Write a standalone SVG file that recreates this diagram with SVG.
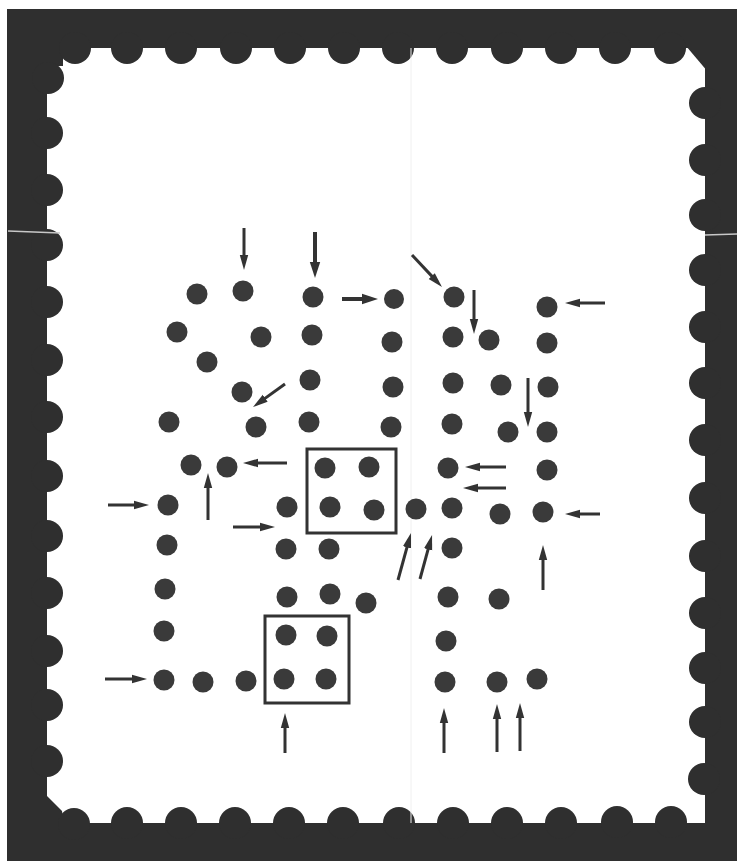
<svg xmlns="http://www.w3.org/2000/svg" width="737" height="861" viewBox="0 0 737 861">
<style>
.frame{fill:#2f2f2f}
.bump{fill:#2f2f2f}
.dot{fill:#3a3a3a}
.box{fill:none;stroke:#333;stroke-width:3}
.arr{stroke:#333;stroke-width:3;fill:none;marker-end:url(#ah)}
.arr2{stroke:#333;stroke-width:4;fill:none;marker-end:url(#ah2)}
.crease{stroke:#c8c8c8;stroke-width:1.5}
</style>
<defs>
<marker id="ah" viewBox="0 0 15 10" refX="8" refY="5" markerWidth="15" markerHeight="10" markerUnits="userSpaceOnUse" orient="auto">
<path d="M0,0.8 L15,5 L0,9.2 Z" fill="#333"/>
</marker>
<marker id="ah2" viewBox="0 0 16 12" refX="9" refY="6" markerWidth="16" markerHeight="12" markerUnits="userSpaceOnUse" orient="auto">
<path d="M0,0.8 L16,6 L0,11.2 Z" fill="#333"/>
</marker>
</defs>
<rect width="737" height="861" fill="#ffffff"/>
<g id="frame">
<rect class="frame" x="7" y="9" width="730" height="852"/>
<rect x="47" y="48" width="658" height="775" fill="#ffffff"/>
<g class="bump">
<rect x="45" y="46" width="18" height="20"/>
<polygon points="686,46 708,46 708,72"/>
<polygon points="45,794 62,811 64,826 45,826"/>
<circle cx="75" cy="48" r="16"/><circle cx="127" cy="48" r="16"/><circle cx="181" cy="48" r="16"/><circle cx="236" cy="48" r="16"/><circle cx="290" cy="48" r="16"/><circle cx="344" cy="48" r="16"/><circle cx="398" cy="48" r="16"/><circle cx="452" cy="48" r="16"/><circle cx="507" cy="48" r="16"/><circle cx="561" cy="48" r="16"/><circle cx="615" cy="48" r="16"/><circle cx="670" cy="48" r="16"/>
<circle cx="74" cy="824" r="16"/><circle cx="127" cy="823" r="16"/><circle cx="181" cy="823" r="16"/><circle cx="235" cy="823" r="16"/><circle cx="289" cy="823" r="16"/><circle cx="343" cy="823" r="16"/><circle cx="399" cy="823" r="16"/><circle cx="453" cy="823" r="16"/><circle cx="507" cy="823" r="16"/><circle cx="561" cy="823" r="16"/><circle cx="617" cy="822" r="16"/><circle cx="671" cy="822" r="16"/>
<circle cx="48" cy="78" r="16"/><circle cx="47" cy="133" r="16"/><circle cx="47" cy="190" r="16"/><circle cx="47" cy="245" r="16"/><circle cx="47" cy="302" r="16"/><circle cx="47" cy="360" r="16"/><circle cx="47" cy="417" r="16"/><circle cx="47" cy="476" r="16"/><circle cx="47" cy="536" r="16"/><circle cx="47" cy="593" r="16"/><circle cx="47" cy="651" r="16"/><circle cx="47" cy="705" r="16"/><circle cx="47" cy="761" r="16"/>
<circle cx="705" cy="103" r="16"/><circle cx="705" cy="160" r="16"/><circle cx="705" cy="215" r="16"/><circle cx="705" cy="270" r="16"/><circle cx="705" cy="327" r="16"/><circle cx="705" cy="383" r="16"/><circle cx="705" cy="440" r="16"/><circle cx="705" cy="498" r="16"/><circle cx="705" cy="556" r="16"/><circle cx="705" cy="613" r="16"/><circle cx="705" cy="668" r="16"/><circle cx="705" cy="722" r="16"/><circle cx="704" cy="779" r="16"/>
</g>
<line class="crease" x1="8" y1="231" x2="60" y2="233"/>
<line class="crease" x1="705" y1="235" x2="737" y2="234"/>
<line x1="411" y1="48" x2="411" y2="823" stroke="#f0f0f0" stroke-width="1"/>
</g>
<g id="box1"><rect class="box" x="307" y="449" width="89" height="84"/></g>
<g id="box2"><rect class="box" x="265" y="616" width="84" height="87"/></g>
<g id="dots">
<g id="n1"><circle class="dot" cx="197" cy="294" r="10.5"/></g>
<g id="n2"><circle class="dot" cx="243" cy="291" r="10.5"/></g>
<g id="n3"><circle class="dot" cx="313" cy="297" r="10.5"/></g>
<g id="n4"><circle class="dot" cx="394" cy="299" r="10"/></g>
<g id="n5"><circle class="dot" cx="177" cy="332" r="10.5"/></g>
<g id="n6"><circle class="dot" cx="261" cy="337" r="10.5"/></g>
<g id="n7"><circle class="dot" cx="312" cy="335" r="10.5"/></g>
<g id="n8"><circle class="dot" cx="392" cy="342" r="10.5"/></g>
<g id="n9"><circle class="dot" cx="207" cy="362" r="10.5"/></g>
<g id="n10"><circle class="dot" cx="310" cy="380" r="10.5"/></g>
<g id="n11"><circle class="dot" cx="242" cy="392" r="10.5"/></g>
<g id="n12"><circle class="dot" cx="393" cy="387" r="10.5"/></g>
<g id="n13"><circle class="dot" cx="169" cy="422" r="10.5"/></g>
<g id="n14"><circle class="dot" cx="256" cy="427" r="10.5"/></g>
<g id="n15"><circle class="dot" cx="309" cy="422" r="10.5"/></g>
<g id="n16"><circle class="dot" cx="391" cy="427" r="10.5"/></g>
<g id="n17"><circle class="dot" cx="191" cy="465" r="10.5"/></g>
<g id="n18"><circle class="dot" cx="227" cy="467" r="10.5"/></g>
<g id="n19"><circle class="dot" cx="325" cy="468" r="10.5"/></g>
<g id="n20"><circle class="dot" cx="369" cy="467" r="10.5"/></g>
<g id="n21"><circle class="dot" cx="330" cy="507" r="10.5"/></g>
<g id="n22"><circle class="dot" cx="374" cy="510" r="10.5"/></g>
<g id="n23"><circle class="dot" cx="287" cy="507" r="10.5"/></g>
<g id="n24"><circle class="dot" cx="168" cy="505" r="10.5"/></g>
<g id="n25"><circle class="dot" cx="416" cy="509" r="10.5"/></g>
<g id="n26"><circle class="dot" cx="454" cy="297" r="10.5"/></g>
<g id="n27"><circle class="dot" cx="547" cy="307" r="10.5"/></g>
<g id="n28"><circle class="dot" cx="453" cy="337" r="10.5"/></g>
<g id="n29"><circle class="dot" cx="489" cy="340" r="10.5"/></g>
<g id="n30"><circle class="dot" cx="547" cy="343" r="10.5"/></g>
<g id="n31"><circle class="dot" cx="453" cy="383" r="10.5"/></g>
<g id="n32"><circle class="dot" cx="501" cy="385" r="10.5"/></g>
<g id="n33"><circle class="dot" cx="548" cy="387" r="10.5"/></g>
<g id="n34"><circle class="dot" cx="452" cy="424" r="10.5"/></g>
<g id="n35"><circle class="dot" cx="508" cy="432" r="10.5"/></g>
<g id="n36"><circle class="dot" cx="547" cy="432" r="10.5"/></g>
<g id="n37"><circle class="dot" cx="448" cy="468" r="10.5"/></g>
<g id="n38"><circle class="dot" cx="547" cy="470" r="10.5"/></g>
<g id="n39"><circle class="dot" cx="452" cy="508" r="10.5"/></g>
<g id="n40"><circle class="dot" cx="500" cy="514" r="10.5"/></g>
<g id="n41"><circle class="dot" cx="543" cy="512" r="10.5"/></g>
<g id="n42"><circle class="dot" cx="167" cy="545" r="10.5"/></g>
<g id="n43"><circle class="dot" cx="286" cy="549" r="10.5"/></g>
<g id="n44"><circle class="dot" cx="329" cy="549" r="10.5"/></g>
<g id="n45"><circle class="dot" cx="165" cy="589" r="10.5"/></g>
<g id="n46"><circle class="dot" cx="287" cy="597" r="10.5"/></g>
<g id="n47"><circle class="dot" cx="330" cy="594" r="10.5"/></g>
<g id="n48"><circle class="dot" cx="366" cy="603" r="10.5"/></g>
<g id="n49"><circle class="dot" cx="164" cy="631" r="10.5"/></g>
<g id="n50"><circle class="dot" cx="286" cy="635" r="10.5"/></g>
<g id="n51"><circle class="dot" cx="327" cy="636" r="10.5"/></g>
<g id="n52"><circle class="dot" cx="284" cy="679" r="10.5"/></g>
<g id="n53"><circle class="dot" cx="326" cy="679" r="10.5"/></g>
<g id="n54"><circle class="dot" cx="164" cy="680" r="10.5"/></g>
<g id="n55"><circle class="dot" cx="203" cy="682" r="10.5"/></g>
<g id="n56"><circle class="dot" cx="246" cy="681" r="10.5"/></g>
<g id="n57"><circle class="dot" cx="452" cy="548" r="10.5"/></g>
<g id="n58"><circle class="dot" cx="448" cy="597" r="10.5"/></g>
<g id="n59"><circle class="dot" cx="499" cy="599" r="10.5"/></g>
<g id="n60"><circle class="dot" cx="446" cy="641" r="10.5"/></g>
<g id="n61"><circle class="dot" cx="445" cy="682" r="10.5"/></g>
<g id="n62"><circle class="dot" cx="497" cy="682" r="10.5"/></g>
<g id="n63"><circle class="dot" cx="537" cy="679" r="10.5"/></g>
</g>
<g id="connectors">
<line class="arr" x1="244" y1="228" x2="244" y2="263"/>
<line class="arr2" x1="315" y1="232" x2="315" y2="271"/>
<line class="arr2" x1="342" y1="299" x2="371" y2="299"/>
<line class="arr" x1="285" y1="384" x2="258.7" y2="402.9"/>
<line class="arr" x1="412" y1="255" x2="437.2" y2="281.9"/>
<line class="arr" x1="474" y1="290" x2="474" y2="327"/>
<line class="arr" x1="605" y1="303" x2="572" y2="303"/>
<line class="arr" x1="528" y1="378" x2="528" y2="420"/>
<line class="arr" x1="287" y1="463" x2="250" y2="463"/>
<line class="arr" x1="208" y1="520" x2="208" y2="480"/>
<line class="arr" x1="108" y1="505" x2="142" y2="505"/>
<line class="arr" x1="506" y1="467" x2="472" y2="467"/>
<line class="arr" x1="506" y1="488" x2="470" y2="488"/>
<line class="arr" x1="600" y1="514" x2="572" y2="514"/>
<line class="arr" x1="233" y1="527" x2="268" y2="527"/>
<line class="arr" x1="398" y1="580" x2="409.1" y2="539.7"/>
<line class="arr" x1="420" y1="579" x2="430.2" y2="541.7"/>
<line class="arr" x1="543" y1="590" x2="543" y2="552"/>
<line class="arr" x1="105" y1="679" x2="140" y2="679"/>
<line class="arr" x1="285" y1="753" x2="285" y2="720"/>
<line class="arr" x1="444" y1="753" x2="444" y2="715"/>
<line class="arr" x1="497" y1="752" x2="497" y2="711"/>
<line class="arr" x1="520" y1="751" x2="520" y2="710"/>
</g>
</svg>
